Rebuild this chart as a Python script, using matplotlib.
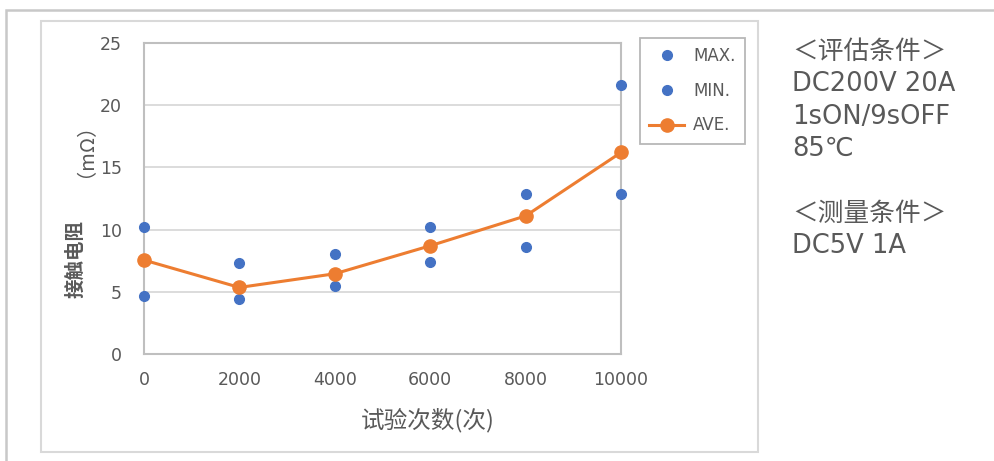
import matplotlib.pyplot as plt
from matplotlib.patches import Rectangle
from matplotlib.lines import Line2D

plt.rcParams['font.family'] = ['DejaVu Sans', 'Noto Sans CJK SC']

# 试验次数 / 接触电阻 (mΩ)
cycles = [0, 2000, 4000, 6000, 8000, 10000]
r_max = [10.2, 7.3, 8.0, 10.2, 12.9, 21.6]
r_min = [4.65, 4.4, 5.5, 7.4, 8.6, 12.85]
r_ave = [7.55, 5.35, 6.45, 8.7, 11.1, 16.2]

yticks = [0, 5, 10, 15, 20, 25]
xticks = [0, 2000, 4000, 6000, 8000, 10000]

cond_lines = ["＜评估条件＞", "DC200V 20A", "1sON/9sOFF", "85℃", "", "＜测量条件＞", "DC5V 1A"]

blue = '#4472C4'
orange = '#ED7D31'
txt = '#595959'

fig = plt.figure(figsize=(9.95, 4.61), dpi=100)
W, H = 995, 461

def px_rect(x0, y0, x1, y1, color, lw=1.5):
    fig.patches.append(Rectangle((x0 / W, 1 - y1 / H), (x1 - x0) / W, (y1 - y0) / H,
                                 transform=fig.transFigure, fill=False,
                                 edgecolor=color, linewidth=lw))

# outer slide frame and chart frame
px_rect(6, 10, 1010, 470, '#C8C8C8', 1.8)
px_rect(41, 21, 758, 452, '#D9D9D9', 1.5)

ax = fig.add_axes([144 / W, 1 - 354 / H, (621 - 144) / W, (354 - 43) / H])
ax.plot(cycles, r_max, 'o', color=blue, markersize=7, label='MAX.', zorder=3)
ax.plot(cycles, r_min, 'o', color=blue, markersize=7, label='MIN.', zorder=3)
ax.plot(cycles, r_ave, '-o', color=orange, markersize=9.5, linewidth=2.2, label='AVE.', zorder=4)

ax.set_xlim(0, 10000)
ax.set_ylim(0, 25)
ax.set_xticks(xticks)
ax.set_yticks(yticks)
ax.tick_params(length=0, labelsize=12.5, labelcolor=txt)
ax.tick_params(axis='y', pad=16)
ax.tick_params(axis='x', pad=12)
ax.grid(axis='y', color='#D9D9D9', linewidth=1.3)
ax.set_axisbelow(True)
for s in ax.spines.values():
    s.set_color('#BFBFBF')
    s.set_linewidth(1.5)
for c in ax.get_children():
    if isinstance(c, Line2D):
        c.set_clip_on(False)

fig.text(428 / W, 1 - 420 / H, '试验次数(次)', fontsize=17, color=txt,
         family=['Noto Sans CJK SC'], ha='center', va='center')
fig.text(76 / W, 1 - 259 / H, '接触电阻', fontsize=14, color=txt, fontweight='bold',
         family=['Noto Sans CJK SC'], rotation=90, ha='center', va='center')
fig.text(76 / W, 1 - 140 / H, '（mΩ）', fontsize=14.5, color=txt,
         family=['Noto Sans CJK SC'], rotation=90, ha='center', va='center')

leg = ax.legend(loc='upper left', bbox_to_anchor=((640 - 144) / (621 - 144), (354 - 38) / (354 - 43)),
                borderaxespad=0, frameon=True, fancybox=False, fontsize=12, labelcolor=txt,
                handlelength=2.1, labelspacing=1.0, borderpad=0.55, handletextpad=0.55)
leg.get_frame().set_edgecolor('#A6A6A6')
leg.get_frame().set_linewidth(1.3)

y = 52
for line in cond_lines:
    if line:
        fig.text(792 / W, 1 - y / H, line, fontsize=18.5, color=txt, ha='left', va='center')
    y += 32.4

fig.savefig('out.png', dpi=100)
